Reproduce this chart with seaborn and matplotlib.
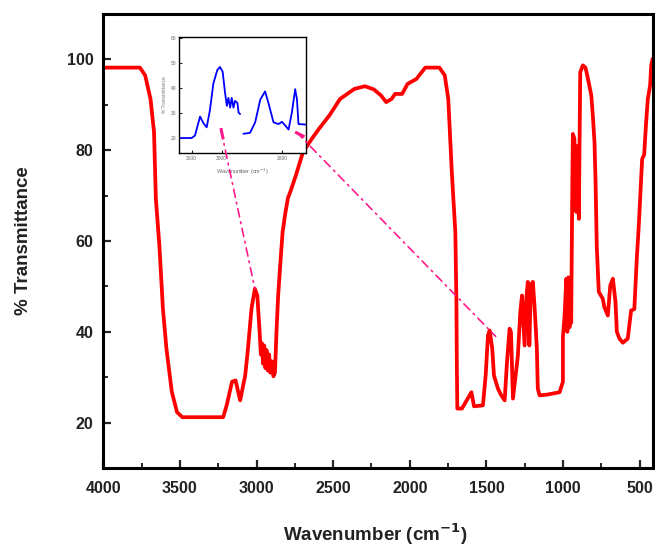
import matplotlib
matplotlib.use("Agg")
import matplotlib.pyplot as plt
from matplotlib.patches import ConnectionPatch
from matplotlib.ticker import MultipleLocator
import seaborn as sns
import pandas as pd

# ---- main FTIR spectrum (red) ----
wavenumber = [4000, 3761, 3727, 3692, 3669, 3657, 3634, 3611, 3588, 3553, 3519, 3484,
              3218, 3195, 3160, 3137, 3107, 3074, 3056, 3033, 3011, 2995, 2980, 2972,
              2965, 2958, 2950, 2942, 2935, 2927, 2918, 2910, 2900, 2890, 2880, 2870,
              2859, 2845, 2830, 2813, 2795, 2778, 2744, 2697, 2640, 2593, 2524, 2455,
              2362, 2293, 2235, 2189, 2154, 2119, 2096, 2050, 2015, 1957, 1899, 1807,
              1772, 1749, 1726, 1703, 1696, 1693, 1690, 1660, 1598, 1581, 1523, 1505,
              1490, 1479, 1462, 1451, 1425, 1403, 1381, 1366, 1349, 1340, 1327, 1310,
              1295, 1279, 1268, 1251, 1240, 1230, 1220, 1210, 1197, 1185, 1171, 1165,
              1153, 1100, 1023, 1001, 1001, 990, 979, 972, 965, 958, 952, 947, 940,
              936, 926, 914, 903, 897, 888, 871, 854, 838, 816, 806, 795, 788, 780,
              767, 741, 731, 708, 692, 675, 658, 649, 632, 610, 578, 556, 535, 519,
              506, 497, 484, 471, 458, 447, 432, 425, 415]
transmittance = [98.2, 98.2, 96.5, 91.3, 84.0, 69.3, 59.0, 45.1, 36.3, 26.8, 22.3, 21.2,
                 21.2, 23.8, 29.0, 29.3, 24.9, 30.4, 36.3, 45.1, 49.5, 48.0, 40.0, 35.0,
                 37.5, 33.0, 37.0, 32.0, 36.0, 31.5, 35.0, 31.0, 33.5, 30.2, 31.0, 40.0,
                 48.0, 55.0, 62.0, 66.0, 69.5, 71.0, 74.4, 79.6, 82.5, 84.7, 87.7, 91.3,
                 93.5, 94.1, 93.4, 92.1, 90.6, 91.3, 92.4, 92.4, 94.6, 95.7, 98.2, 98.2,
                 96.5, 91.3, 75.2, 62.0, 47.0, 32.0, 23.1, 23.1, 26.7, 23.6, 23.8, 30.4,
                 39.2, 40.3, 36.3, 30.4, 27.5, 26.0, 24.9, 33.3, 40.7, 40.0, 25.3, 30.4,
                 34.7, 44.4, 48.0, 37.0, 47.3, 51.0, 37.0, 50.3, 51.0, 45.0, 36.3, 27.5,
                 26.0, 26.2, 26.7, 29.0, 38.9, 43.6, 51.7, 40.0, 52.0, 41.0, 50.0, 42.0,
                 71.5, 83.6, 82.5, 66.4, 81.0, 64.9, 97.2, 98.7, 98.2, 95.8, 92.1, 87.7,
                 81.8, 73.0, 58.7, 48.8, 47.3, 45.5, 43.6, 50.2, 51.7, 46.6, 40.0, 38.5,
                 37.6, 38.5, 44.7, 45.0, 56.1, 63.4, 69.3, 78.1, 79.0, 86.2, 91.3, 94.3,
                 98.7, 100.2]

# ---- inset (blue), two segments ----
inset_x1 = [3142, 3100, 3089, 3072, 3061, 3050, 3039, 3028, 3015, 3006, 2997, 2989,
            2983, 2978, 2972, 2967, 2961, 2956, 2948, 2944, 2939]
inset_y1 = [20.0, 20.0, 21.0, 28.6, 26.0, 24.3, 31.4, 41.8, 47.2, 48.5, 46.6, 38.1,
            32.9, 36.1, 32.2, 36.1, 32.2, 34.9, 34.1, 30.2, 29.6]
inset_x2 = [2928, 2906, 2889, 2872, 2856, 2845, 2828, 2811, 2800, 2789, 2778, 2767,
            2756, 2750, 2745, 2720]
inset_y2 = [21.7, 22.1, 26.3, 35.4, 38.7, 34.1, 26.3, 25.6, 26.5, 25.0, 23.4, 30.2,
            39.6, 35.4, 25.6, 25.4]
inset_xticks = [3100, 3000, 2800]
inset_yticks = [20, 30, 40, 50, 60]

# connector anchors (inset point -> main spectrum point)
conn_inset = [(3002, 23.0), (2752, 22.4)]
conn_main = [(3011, 49.5), (1440, 39.0)]
mark1_x, mark1_y = [3003, 2995], [24.0, 19.5]
mark2_x, mark2_y = [2756, 2725], [22.4, 20.5]

sns.set_style("ticks")
plt.rcParams["font.family"] = ["Liberation Sans", "DejaVu Sans"]

fig = plt.figure(figsize=(6.55, 5.5), dpi=100)
ax = fig.add_axes([0.1577, 0.149, 0.84, 0.8255])

main_df = pd.DataFrame({"x": wavenumber, "y": transmittance})
sns.lineplot(data=main_df, x="x", y="y", sort=False, estimator=None,
             color="#ff0000", lw=2.7, ax=ax)

ax.set_xlim(4000, 410)
ax.set_ylim(10, 110)
ax.xaxis.set_major_locator(MultipleLocator(500))
ax.xaxis.set_minor_locator(MultipleLocator(250))
ax.set_yticks([20, 40, 60, 80, 100])
ax.yaxis.set_minor_locator(MultipleLocator(10))
for s in ax.spines.values():
    s.set_linewidth(2.2)
    s.set_color("black")
    s.set_visible(True)
ax.tick_params(axis="both", which="major", direction="in", length=6, width=1.6,
               labelsize=11.5, labelcolor="#222222")
ax.tick_params(axis="both", which="minor", direction="in", length=3.5, width=1.4)
ax.tick_params(axis="x", which="major", pad=9)
ax.tick_params(axis="y", which="major", pad=7)
for lab in ax.get_xticklabels() + ax.get_yticklabels():
    lab.set_fontweight("bold")

ax.set_xlabel("Wavenumber (cm$^{\\mathbf{-1}}$)", fontsize=13.5, fontweight="bold",
              color="#222222")
ax.set_ylabel("% Transmittance", fontsize=13.5, fontweight="bold", color="#222222")
ax.xaxis.set_label_coords(0.495, -0.118)
ax.yaxis.set_label_coords(-0.13, 0.5)

# ---- inset ----
axin = fig.add_axes([0.2733, 0.7218, 0.1939, 0.2109])
axin.set_facecolor("white")
sns.lineplot(x=inset_x1, y=inset_y1, sort=False, estimator=None, color="#0000ff",
             lw=1.3, ax=axin)
sns.lineplot(x=inset_x2, y=inset_y2, sort=False, estimator=None, color="#0000ff",
             lw=1.3, ax=axin)
axin.set_xlim(3142, 2720)
axin.set_ylim(14, 60.5)
axin.set_xticks(inset_xticks)
axin.set_yticks(inset_yticks)
for s in axin.spines.values():
    s.set_linewidth(1.0)
    s.set_color("black")
    s.set_visible(True)
axin.tick_params(direction="in", length=2, width=0.8, labelsize=3.5,
                 labelcolor="#666666", pad=2)
axin.set_xlabel("Wavenumber (cm$^{-1}$)", fontsize=4, color="#666666", labelpad=4)
axin.set_ylabel("% Transmittance", fontsize=3.5, color="#777777", labelpad=3)

pink = "#ff1a8c"
axin.plot(mark1_x, mark1_y, color=pink, lw=2.2, solid_capstyle="butt")
axin.plot(mark2_x, mark2_y, color=pink, lw=2.2, solid_capstyle="butt")
for a, b in zip(conn_inset, conn_main):
    con = ConnectionPatch(xyA=a, coordsA=axin.transData, xyB=b, coordsB=ax.transData,
                          color=pink, lw=1.2, linestyle=(0, (5, 3, 1, 3)), zorder=10)
    fig.add_artist(con)

fig.savefig("out.png", dpi=100)
